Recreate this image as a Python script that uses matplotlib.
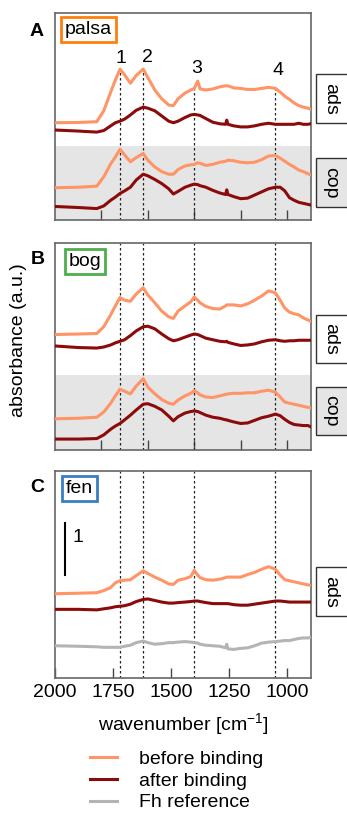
import numpy as np
import matplotlib.pyplot as plt
from matplotlib.patches import Rectangle

plt.rcParams['font.family'] = ['Liberation Sans', 'DejaVu Sans']
plt.rcParams['font.size'] = 14

# wavenumber grid (cm-1) shared by all spectra
wavenumber = [2000, 1900, 1820, 1790, 1760, 1740, 1720, 1700, 1675, 1650,
              1620, 1600, 1570, 1540, 1510, 1490, 1470, 1440, 1415, 1400,
              1385, 1375, 1350, 1320, 1290, 1265, 1260, 1255, 1230, 1200,
              1170, 1140, 1110, 1080, 1050, 1030, 1010, 990, 970, 950,
              930, 910, 900]

peak_positions = [1720, 1620, 1400, 1050]
peak_labels = ['1', '2', '3', '4']

# absorbance (a.u.), already stacked as shown
palsa_ads_before = [1.87, 1.875, 1.89, 2.10, 2.46, 2.69, 2.90, 2.79, 2.63, 2.78,
                    2.90, 2.74, 2.50, 2.33, 2.21, 2.20, 2.33, 2.44, 2.50, 2.53,
                    2.67, 2.52, 2.50, 2.52, 2.56, 2.58, 2.58, 2.58, 2.54, 2.53,
                    2.51, 2.51, 2.53, 2.55, 2.53, 2.46, 2.38, 2.32, 2.25, 2.20,
                    2.17, 2.15, 2.13]
palsa_ads_after = [1.73, 1.71, 1.69, 1.72, 1.81, 1.87, 1.90, 1.94, 2.02, 2.11,
                   2.17, 2.15, 2.10, 2.00, 1.90, 1.87, 1.90, 1.97, 2.02, 2.03,
                   2.02, 2.01, 1.95, 1.88, 1.85, 1.84, 1.92, 1.84, 1.81, 1.79,
                   1.79, 1.81, 1.84, 1.86, 1.84, 1.84, 1.84, 1.84, 1.84, 1.86,
                   1.84, 1.84, 1.85]
palsa_cop_before = [0.62, 0.63, 0.65, 0.83, 1.08, 1.21, 1.36, 1.25, 1.12, 1.20,
                    1.28, 1.15, 1.02, 0.93, 0.88, 0.88, 0.97, 1.04, 1.06, 1.07,
                    1.10, 1.09, 1.05, 1.07, 1.11, 1.13, 1.14, 1.15, 1.14, 1.11,
                    1.10, 1.11, 1.16, 1.23, 1.24, 1.19, 1.13, 1.07, 1.02, 0.96,
                    0.93, 0.89, 0.87]
palsa_cop_after = [0.26, 0.24, 0.22, 0.27, 0.38, 0.44, 0.51, 0.56, 0.63, 0.77,
                   0.88, 0.85, 0.78, 0.70, 0.60, 0.50, 0.55, 0.63, 0.67, 0.69,
                   0.68, 0.66, 0.63, 0.57, 0.52, 0.49, 0.58, 0.49, 0.45, 0.41,
                   0.42, 0.48, 0.54, 0.60, 0.63, 0.63, 0.56, 0.43, 0.38, 0.34,
                   0.32, 0.30, 0.29]

bog_ads_before = [2.22, 2.23, 2.24, 2.37, 2.60, 2.77, 2.93, 2.88, 2.86, 3.00,
                  3.12, 2.98, 2.83, 2.67, 2.56, 2.53, 2.67, 2.77, 2.85, 2.94,
                  2.88, 2.83, 2.76, 2.72, 2.71, 2.77, 2.79, 2.79, 2.79, 2.77,
                  2.81, 2.88, 2.96, 3.06, 3.02, 2.88, 2.73, 2.65, 2.62, 2.60,
                  2.54, 2.50, 2.48]
bog_ads_after = [2.00, 1.97, 1.96, 1.98, 2.02, 2.06, 2.09, 2.12, 2.20, 2.29,
                 2.37, 2.38, 2.33, 2.23, 2.14, 2.10, 2.12, 2.17, 2.21, 2.23,
                 2.22, 2.20, 2.15, 2.12, 2.09, 2.08, 2.09, 2.07, 2.04, 2.01,
                 2.02, 2.04, 2.08, 2.11, 2.12, 2.10, 2.09, 2.10, 2.10, 2.11,
                 2.11, 2.11, 2.11]
bog_cop_before = [0.60, 0.61, 0.63, 0.73, 0.90, 1.04, 1.17, 1.13, 1.08, 1.23,
                  1.37, 1.21, 1.08, 0.97, 0.90, 0.88, 0.96, 1.04, 1.09, 1.14,
                  1.10, 1.06, 1.02, 1.01, 1.04, 1.07, 1.07, 1.08, 1.09, 1.09,
                  1.10, 1.10, 1.13, 1.15, 1.11, 1.02, 0.92, 0.90, 0.88, 0.86,
                  0.84, 0.82, 0.81]
bog_cop_after = [0.21, 0.21, 0.22, 0.29, 0.40, 0.46, 0.51, 0.58, 0.67, 0.77,
                 0.88, 0.89, 0.84, 0.77, 0.65, 0.56, 0.64, 0.71, 0.74, 0.75,
                 0.74, 0.72, 0.67, 0.63, 0.61, 0.58, 0.58, 0.57, 0.54, 0.51,
                 0.52, 0.57, 0.62, 0.65, 0.69, 0.66, 0.59, 0.53, 0.49, 0.48,
                 0.47, 0.47, 0.45]

fen_ads_before = [1.62, 1.63, 1.64, 1.68, 1.74, 1.83, 1.87, 1.88, 1.89, 1.97,
                  2.06, 2.01, 1.94, 1.88, 1.81, 1.80, 1.88, 1.91, 1.95, 2.07,
                  1.98, 1.93, 1.89, 1.88, 1.90, 1.93, 1.94, 1.94, 1.94, 1.94,
                  1.99, 2.03, 2.09, 2.14, 2.09, 1.98, 1.89, 1.87, 1.85, 1.83,
                  1.81, 1.79, 1.78]
fen_ads_after = [1.32, 1.32, 1.31, 1.33, 1.35, 1.37, 1.38, 1.39, 1.42, 1.47,
                 1.51, 1.52, 1.49, 1.46, 1.44, 1.44, 1.45, 1.46, 1.47, 1.48,
                 1.48, 1.47, 1.45, 1.43, 1.43, 1.43, 1.43, 1.43, 1.41, 1.40,
                 1.40, 1.42, 1.44, 1.46, 1.48, 1.48, 1.47, 1.46, 1.46, 1.46,
                 1.46, 1.46, 1.46]
fh_reference = [0.62, 0.61, 0.60, 0.59, 0.59, 0.59, 0.59, 0.61, 0.63, 0.68,
                0.71, 0.68, 0.65, 0.66, 0.68, 0.68, 0.69, 0.70, 0.69, 0.68,
                0.67, 0.65, 0.63, 0.62, 0.61, 0.58, 0.65, 0.56, 0.55, 0.57,
                0.58, 0.62, 0.67, 0.69, 0.70, 0.71, 0.72, 0.72, 0.74, 0.76,
                0.77, 0.77, 0.78]

C_BEFORE = '#ff9466'
C_AFTER = '#8b0a0a'
C_REF = '#b4b4b4'
GREY_BAND = '#e5e5e5'

W, H = 347, 814


def fx(px):
    return px / W


def fy(py):
    return 1 - py / H


def make_panel(fig, top, bottom):
    ax = fig.add_axes([fx(55), fy(bottom), fx(311) - fx(55), (bottom - top) / H])
    ax.set_xlim(2000, 897)
    ax.set_ylim(0, 3.98)
    ax.set_yticks([])
    for s in ax.spines.values():
        s.set_color('#666666')
        s.set_linewidth(1.2)
    ax.tick_params(axis='x', direction='in', length=7, width=1, color='#444444',
                   labelbottom=False, pad=4.5)
    return ax


def strip(fig, text, top, bottom, grey=False):
    fig.add_artist(Rectangle((fx(316), fy(bottom)), fx(40), (bottom - top) / H,
                             transform=fig.transFigure, fc=GREY_BAND if grey else 'white',
                             ec='#333333', lw=1, clip_on=False))
    fig.text(fx(331), fy((top + bottom) / 2), text, rotation=270, ha='center', va='center')


def site_label(ax, text, x, y, color):
    ax.text(x, y, text, transform=ax.transAxes, ha='left', va='top',
            bbox=dict(boxstyle='square,pad=0.2', fc='white', ec=color, lw=2))


def draw(ax, y, color):
    return ax.plot(wavenumber, y, color=color, lw=2.2, zorder=3)[0]


fig = plt.figure(figsize=(3.47, 8.14), dpi=100)

# panel A - palsa
ax_a = make_panel(fig, 13, 220)
ax_a.axhspan(0, 1.42, color=GREY_BAND, zorder=0, lw=0)
for p in peak_positions:
    top = np.interp(p, wavenumber[::-1], palsa_ads_before[::-1])
    ax_a.plot([p, p], [0, top], color='#222222', lw=0.9, ls=(0, (2, 2)), zorder=2)
for y, c in [(palsa_ads_before, C_BEFORE), (palsa_ads_after, C_AFTER),
             (palsa_cop_before, C_BEFORE), (palsa_cop_after, C_AFTER)]:
    draw(ax_a, y, c)
ax_a.set_xticks([1800, 1600, 1400, 1200, 1000])
for lab, (x, y) in zip(peak_labels, [(1717, 3.11), (1600, 3.12), (1389, 2.92), (1040, 2.88)]):
    ax_a.text(x, y, lab, ha='center', va='center')
site_label(ax_a, 'palsa', 0.039, 0.963, '#ff7f0e')

# panel B - bog
ax_b = make_panel(fig, 243, 450)
ax_b.axhspan(0, 1.44, color=GREY_BAND, zorder=0, lw=0)
for p in peak_positions:
    ax_b.axvline(p, color='#222222', lw=0.9, ls=(0, (2, 2)), zorder=2)
for y, c in [(bog_ads_before, C_BEFORE), (bog_ads_after, C_AFTER),
             (bog_cop_before, C_BEFORE), (bog_cop_after, C_AFTER)]:
    draw(ax_b, y, c)
ax_b.set_xticks([1800, 1600, 1400, 1200, 1000])
site_label(ax_b, 'bog', 0.054, 0.951, '#4cae4c')

# panel C - fen
ax_c = make_panel(fig, 471, 678)
for p in peak_positions:
    ax_c.axvline(p, color='#222222', lw=0.9, ls=(0, (2, 2)), zorder=2)
l_before = draw(ax_c, fen_ads_before, C_BEFORE)
l_after = draw(ax_c, fen_ads_after, C_AFTER)
l_ref = draw(ax_c, fh_reference, C_REF)
ax_c.set_xticks([2000, 1750, 1500, 1250, 1000])
ax_c.tick_params(axis='x', labelbottom=True)
site_label(ax_c, 'fen', 0.041, 0.958, '#3a7dc0')
# scale bar
ax_c.plot([1957, 1957], [1.98, 2.98], color='black', lw=1.5)
ax_c.text(1900, 2.70, '1', ha='center', va='center')

# strips on the right
strip(fig, 'ads', 74, 123)
strip(fig, 'cop', 158, 207, grey=True)
strip(fig, 'ads', 315, 363)
strip(fig, 'cop', 387, 435, grey=True)
strip(fig, 'ads', 567, 616)

# panel letters and axis labels
for lab, (x, y) in zip(['A', 'B', 'C'], [(37, 31), (37.5, 259), (37, 488)]):
    fig.text(fx(x), fy(y), lab, fontweight='bold', ha='center', va='center')
fig.text(fx(183), fy(725), r'wavenumber [cm$^{\mathregular{-1}}$]', ha='center', va='center')
fig.text(fx(19), fy(340), 'absorbance (a.u.)', rotation=90, ha='center', va='center')

fig.legend(handles=[l_before, l_after, l_ref],
           labels=['before binding', 'after binding', 'Fh reference'],
           loc='upper left', bbox_to_anchor=(fx(89.7), fy(750)), frameon=False,
           borderpad=0, borderaxespad=0, handlelength=1.4, handletextpad=1.15,
           labelspacing=0.22, fontsize=14)

fig.savefig('out.png', dpi=100)
plt.close(fig)
